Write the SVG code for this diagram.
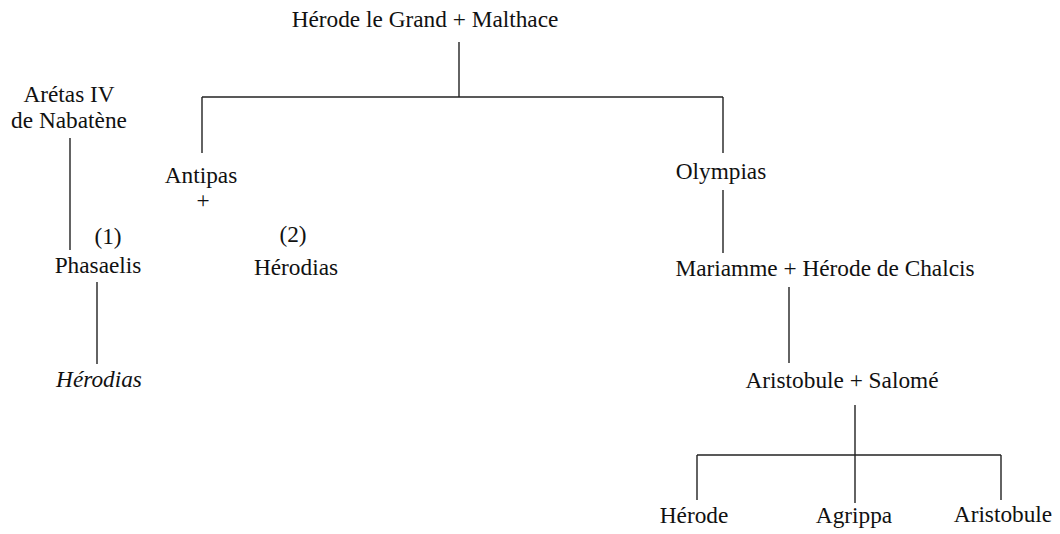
<svg xmlns="http://www.w3.org/2000/svg" width="1060" height="534" viewBox="0 0 1060 534">
<style>
text{font-family:"Liberation Serif","Times New Roman",serif;font-size:23.3px;fill:#111;text-anchor:middle}
.it{font-style:italic}
#connectors line{stroke:#222;stroke-width:1.4;fill:none}
</style>
<rect width="1060" height="534" fill="#fff"/>
<g id="connectors">
<line x1="459" y1="42" x2="459" y2="97"/>
<line x1="202" y1="97" x2="723" y2="97"/>
<line x1="202" y1="97" x2="202" y2="153"/>
<line x1="723" y1="97" x2="723" y2="153"/>
<line x1="70" y1="138" x2="70" y2="250"/>
<line x1="97" y1="282" x2="97" y2="364"/>
<line x1="723" y1="190" x2="723" y2="253"/>
<line x1="789" y1="287" x2="789" y2="363"/>
<line x1="855" y1="405" x2="855" y2="503"/>
<line x1="697" y1="455" x2="1001" y2="455"/>
<line x1="697" y1="455" x2="697" y2="500"/>
<line x1="1001" y1="455" x2="1001" y2="500"/>
</g>
<g id="herode-malthace"><text x="425" y="27">Hérode le Grand + Malthace</text></g>
<g id="aretas"><text x="69" y="102">Arétas IV</text><text x="69" y="128">de Nabatène</text></g>
<g id="antipas"><text x="201" y="183">Antipas</text><text x="203" y="208">+</text></g>
<g id="label1"><text x="108" y="244">(1)</text></g>
<g id="phasaelis"><text x="98" y="273">Phasaelis</text></g>
<g id="label2"><text x="293" y="242">(2)</text></g>
<g id="herodias"><text x="296" y="275">Hérodias</text></g>
<g id="herodias-it"><text class="it" x="99" y="387">Hérodias</text></g>
<g id="olympias"><text x="721" y="179">Olympias</text></g>
<g id="mariamme"><text x="825" y="276">Mariamme + Hérode de Chalcis</text></g>
<g id="aristobule-salome"><text x="842" y="388">Aristobule + Salomé</text></g>
<g id="herode"><text x="694" y="523">Hérode</text></g>
<g id="agrippa"><text x="854" y="523">Agrippa</text></g>
<g id="aristobule"><text x="1003" y="522">Aristobule</text></g>
</svg>
